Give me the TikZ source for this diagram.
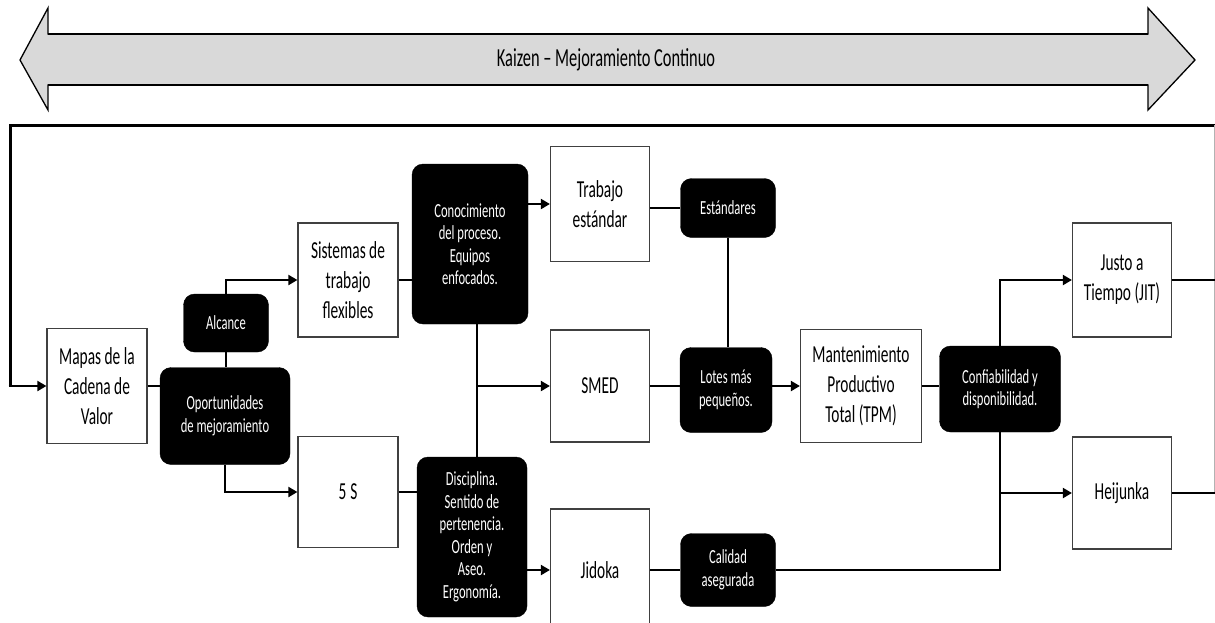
\documentclass[tikz,border=0pt]{standalone}
\usepackage{fontspec}
\setmainfont{Carlito}[FakeStretch=0.63]
\usetikzlibrary{arrows.meta,calc}
\definecolor{bandgray}{HTML}{D9D9D9}
\definecolor{boxline}{HTML}{404040}
\tikzset{
  wbox/.style={draw=boxline, line width=1.2pt, fill=white, align=center,
    inner sep=2pt, font=\fontsize{24.4}{30}\selectfont},
  dbox/.style={draw=black, fill=black, text=white, rounded corners=11pt,
    align=center, inner sep=2pt, font=\fontsize{20}{22.5}\selectfont},
  conn/.style={line width=2pt, draw=black},
  arr/.style={conn, -{Triangle[length=9pt,width=10pt]}},
}
\begin{document}
\begin{tikzpicture}[x=1pt,y=-1pt]
\useasboundingbox (0,0) rectangle (1215,622);
\clip (0,0) rectangle (1215,622);
% Kaizen band
\draw[fill=bandgray, draw=black, line width=1.3pt, line join=miter]
  (20,60) -- (48,8) -- (48,34) -- (1148,34) -- (1148,8) -- (1195,60)
  -- (1148,110) -- (1148,85) -- (48,85) -- (48,110) -- cycle;
\draw[line width=2pt] (48,34) -- (1148,34);
\draw[line width=2pt] (48,85) -- (1148,85);
\node[font=\fontsize{26}{30}\selectfont] (kaizen) at (606,60) {Kaizen -- Mejoramiento Continuo};
% boxes
\node[wbox, minimum width=100pt, minimum height=115pt] (map) at (97,386) {Mapas de la\\Cadena de\\Valor};
\node[wbox, minimum width=100pt, minimum height=114pt] (sis) at (348,280) {Sistemas de\\trabajo\\flexibles};
\node[wbox, minimum width=100pt, minimum height=111pt] (fives) at (348,492) {5\,S};
\node[dbox, minimum width=85pt, minimum height=58pt] (alc) at (226,323) {Alcance};
\node[dbox, minimum width=130pt, minimum height=97pt] (opo) at (225,416) {Oportunidades\\de mejoramiento};
\node[dbox, minimum width=116pt, minimum height=160pt] (con) at (470,244) {Conocimiento\\del proceso.\\Equipos\\enfocados.};
\node[wbox, minimum width=99pt, minimum height=115pt] (tra) at (600,204) {Trabajo\\estándar};
\node[dbox, minimum width=95pt, minimum height=59pt] (est) at (728,208) {Estándares};
\node[wbox, minimum width=99pt, minimum height=112pt] (smed) at (600,386) {SMED};
\node[dbox, minimum width=92pt, minimum height=85pt] (lot) at (726,390) {Lotes más\\pequeños.};
\node[wbox, minimum width=121pt, minimum height=113pt] (man) at (861,386) {Mantenimiento\\Productivo\\Total (TPM)};
\node[dbox, minimum width=121pt, minimum height=86pt] (conf) at (1000,389) {Confiabilidad y\\disponibilidad.};
\node[wbox, minimum width=99pt, minimum height=114pt] (jit) at (1122,280) {Justo a\\Tiempo (JIT)};
\node[wbox, minimum width=99pt, minimum height=112pt] (hei) at (1122,493) {Heijunka};
\node[dbox, minimum width=95pt, minimum height=73pt] (cal) at (728,570) {Calidad\\asegurada};
\node[wbox, minimum width=99pt, minimum height=122pt] (jid) at (600,570) {Jidoka};
\node[dbox, minimum width=110pt, minimum height=160pt] (dis) at (472,537) {Disciplina.\\Sentido de\\pertenencia.\\Orden y\\Aseo.\\Ergonomía.};
% coordinates
\coordinate (tr) at (1216,125);
\coordinate (tl) at (10,125);
\coordinate (rv) at (1214,125);
\coordinate (vtop) at (477,324);
\coordinate (vbot) at (477,457);
% outer loop
\draw[line width=3pt, line join=miter] (tr) -- (tl) -- (tl |- map.west);
\draw[arr] ([xshift=-1.5pt]tl |- map.west) -- (map.west);
\draw[line width=1pt, draw=gray!60] (rv) -- (rv |- hei.east);
\draw[conn] (jit.east) -- (jit.east -| tr);
\draw[conn] (hei.east) -- (hei.east -| tr);
% left part
\draw[conn] (map.east) -- (map.east -| opo.west);
\draw[conn] (alc.south) -- (alc.south |- opo.north);
\draw[arr] (alc.north) |- (sis.west);
\draw[arr] (opo.south) |- (fives.west);
% middle
\draw[conn] (sis.east) -- (sis.east -| con.west);
\draw[arr] (con.east |- tra.west) -- (tra.west);
\draw[conn] (tra.east |- est.west) -- (est.west);
\draw[conn] (est.south) -- (est.south |- lot.north);
\draw[conn] (vtop) -- (vbot);
\draw[arr] (vtop |- smed.west) -- (smed.west);
\draw[conn] (fives.east) -- (fives.east -| dis.west);
\draw[arr] (dis.east |- jid.west) -- (jid.west);
\draw[conn] (jid.east) -- (cal.west);
\draw[conn] (smed.east) -- (smed.east -| lot.west);
\draw[arr] (lot.east |- man.west) -- (man.west);
% right part
\draw[conn] (man.east) -- (man.east -| conf.west);
\draw[arr] (conf.north) |- (jit.west);
\draw[conn] (conf.south) -- (conf.south |- cal.east) -- (cal.east);
\draw[arr] (conf.south |- hei.west) -- (hei.west);
\end{tikzpicture}
\end{document}
